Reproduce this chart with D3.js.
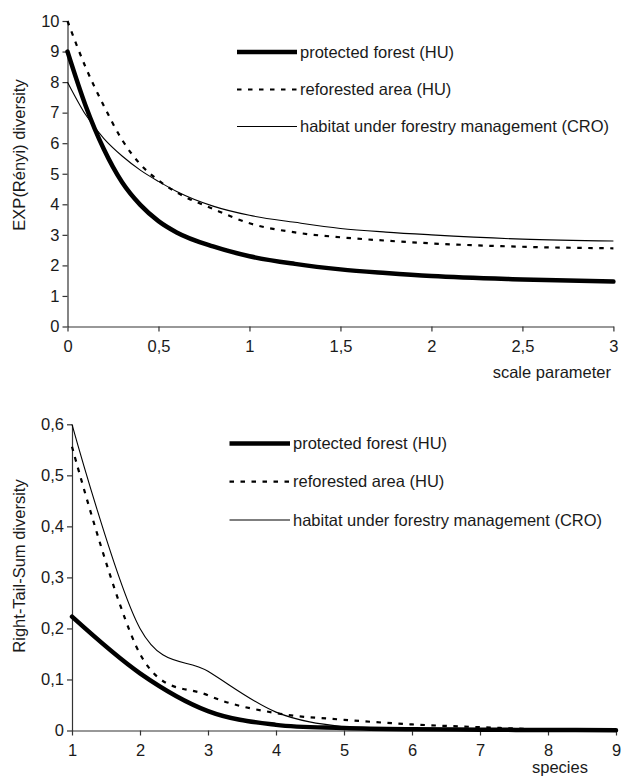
<!DOCTYPE html>
<html>
<head>
<meta charset="utf-8">
<script src="https://cdn.jsdelivr.net/npm/d3@7"></script>
<style>
  html, body { margin: 0; padding: 0; background: #fff; }
  svg text { font-family: "Liberation Sans", Arial, Helvetica, sans-serif; fill: #1a1a1a; }
</style>
</head>
<body>
<svg id="chart" width="623" height="778"></svg>
<script>
// Rényi diversity profiles (exponential form) against the scale parameter
const scaleParam      = [0, 0.1, 0.2, 0.3, 0.4, 0.5, 0.6, 0.8, 1, 1.25, 1.5, 1.75, 2, 2.5, 3];
const protectedRenyi  = [9.0, 7.22, 5.8, 4.72, 3.98, 3.45, 3.08, 2.62, 2.3, 2.05, 1.87, 1.75, 1.65, 1.54, 1.47];
const reforestedRenyi = [10.0, 8.48, 7.22, 6.11, 5.31, 4.78, 4.39, 3.85, 3.38, 3.08, 2.92, 2.81, 2.72, 2.61, 2.56];
const managedRenyi    = [8.0, 6.93, 6.15, 5.58, 5.12, 4.75, 4.42, 3.94, 3.64, 3.41, 3.21, 3.09, 3.0, 2.86, 2.8];
const renyiXTicks = [0, 0.5, 1, 1.5, 2, 2.5, 3];
const renyiYTicks = [0, 1, 2, 3, 4, 5, 6, 7, 8, 9, 10];

// Right-tail-sum diversity profiles against species rank
const species         = [1, 2, 3, 4, 5, 6, 7, 8, 9];
const protectedRTS    = [0.223, 0.112, 0.038, 0.011, 0.005, 0.0025, 0.0015, 0.001, 0.0005];
const reforestedRTS   = [0.556, 0.15, 0.069, 0.034, 0.021, 0.012, 0.0065, 0.002, 0];
const managedRTS      = [0.6, 0.2, 0.116, 0.036, 0.007, 0.003, 0.002, 0.001, 0];
const rtsXTicks = [1, 2, 3, 4, 5, 6, 7, 8, 9];
const rtsYTicks = [0, 0.1, 0.2, 0.3, 0.4, 0.5, 0.6];

const seriesNames = ["protected forest (HU)", "reforested area (HU)", "habitat under forestry management (CRO)"];
const seriesStyles = [
  { width: 4.5, dash: null },
  { width: 2.2, dash: "4.5,6.5" },
  { width: 1.1, dash: null }
];

const fmt = d => String(d).replace(".", ",");
const svg = d3.select("#chart");
const FONT = 16.5;

function panel(opts) {
  const x = d3.scaleLinear().domain(opts.xDomain).range([opts.left, opts.right]);
  const y = d3.scaleLinear().domain(opts.yDomain).range([opts.bottom, opts.top]);
  const g = svg.append("g");

  // axes
  const xAxis = g.append("g")
    .attr("transform", `translate(0,${opts.bottom})`)
    .call(d3.axisBottom(x).tickValues(opts.xTicks).tickSize(5).tickSizeOuter(0).tickFormat(fmt));
  const yAxis = g.append("g")
    .attr("transform", `translate(${opts.left},0)`)
    .call(d3.axisLeft(y).tickValues(opts.yTicks).tickSize(5).tickSizeOuter(0).tickFormat(fmt));
  [xAxis, yAxis].forEach(a => {
    a.select(".domain").attr("stroke", "#333").attr("stroke-width", 1.2);
    a.selectAll(".tick line").attr("stroke", "#333").attr("stroke-width", 1.2);
    a.selectAll(".tick text").attr("font-size", FONT).attr("font-family", "Liberation Sans, Arial, sans-serif").attr("fill", "#1a1a1a");
  });
  xAxis.selectAll(".tick text").attr("y", 14).attr("dy", "0.71em");
  yAxis.selectAll(".tick text").attr("x", -8);

  // curves
  const line = d3.line()
    .x((d, i) => x(opts.xs[i]))
    .y(d => y(d))
    .curve(opts.curve);
  opts.series.forEach((vals, k) => {
    const st = seriesStyles[k];
    g.append("path")
      .attr("d", line(vals))
      .attr("fill", "none")
      .attr("stroke", "#000")
      .attr("stroke-width", st.width)
      .attr("stroke-linecap", k === 0 ? "round" : "butt")
      .attr("stroke-dasharray", st.dash);
  });

  // y-axis title
  g.append("text")
    .attr("transform", `translate(${opts.yTitleX},${opts.yTitleY}) rotate(-90)`)
    .attr("text-anchor", "middle")
    .attr("font-size", FONT)
    .text(opts.yTitle);

  // x-axis title
  g.append("text")
    .attr("x", opts.xTitleX).attr("y", opts.xTitleY)
    .attr("text-anchor", opts.xTitleAnchor)
    .attr("font-size", FONT)
    .text(opts.xTitle);

  // legend
  seriesNames.forEach((name, k) => {
    const st = seriesStyles[k];
    const ly = opts.legendY[k];
    g.append("line")
      .attr("x1", opts.legendX1).attr("x2", opts.legendX2)
      .attr("y1", ly).attr("y2", ly)
      .attr("stroke", "#000")
      .attr("stroke-width", st.width)
      .attr("stroke-dasharray", st.dash);
    g.append("text")
      .attr("x", opts.legendX2 + 3).attr("y", ly)
      .attr("dy", "0.35em")
      .attr("font-size", FONT)
      .text(name);
  });
}

panel({
  xDomain: [0, 3], yDomain: [0, 10],
  left: 67.5, right: 613.4, top: 21, bottom: 326.5,
  xTicks: renyiXTicks, yTicks: renyiYTicks,
  xs: scaleParam,
  series: [protectedRenyi, reforestedRenyi, managedRenyi],
  curve: d3.curveMonotoneX,
  yTitle: "EXP(Rényi) diversity", yTitleX: 25, yTitleY: 155,
  xTitle: "scale parameter", xTitleX: 611, xTitleY: 378, xTitleAnchor: "end",
  legendX1: 237, legendX2: 297, legendY: [52, 89.5, 126.5]
});

panel({
  xDomain: [1, 9], yDomain: [0, 0.6],
  left: 72, right: 616, top: 424.3, bottom: 730.5,
  xTicks: rtsXTicks, yTicks: rtsYTicks,
  xs: species,
  series: [protectedRTS, reforestedRTS, managedRTS],
  curve: d3.curveCardinal.tension(0),
  yTitle: "Right-Tail-Sum diversity", yTitleX: 25, yTitleY: 566,
  xTitle: "species", xTitleX: 560, xTitleY: 773, xTitleAnchor: "middle",
  legendX1: 229.5, legendX2: 290, legendY: [443.5, 481.7, 520]
});
</script>
</body>
</html>
